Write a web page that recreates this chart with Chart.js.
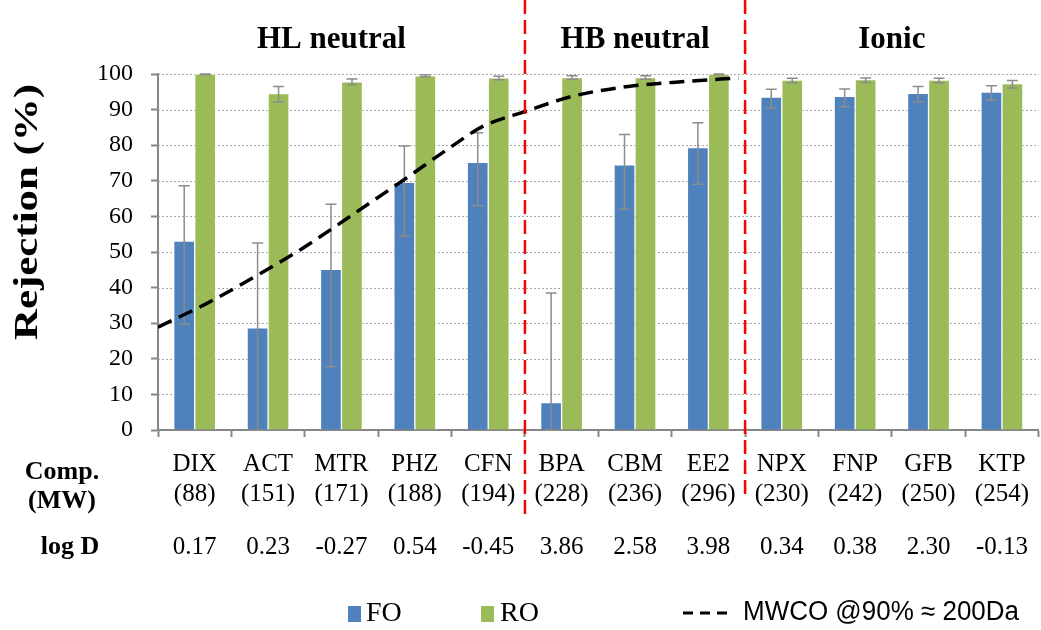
<!DOCTYPE html>
<html>
<head>
<meta charset="utf-8">
<script src="https://cdn.jsdelivr.net/npm/chart.js@4.4.0/dist/chart.umd.min.js"></script>
<style>
  html, body { margin: 0; padding: 0; background: #fff; overflow: hidden; }
  canvas { display: block; }
</style>
</head>
<body>
<canvas id="rejchart" width="1041" height="630"></canvas>
<script>
// compounds, molecular weight and log D
const compounds = ["DIX", "ACT", "MTR", "PHZ", "CFN", "BPA", "CBM", "EE2", "NPX", "FNP", "GFB", "KTP"];
const molWeights = [88, 151, 171, 188, 194, 228, 236, 296, 230, 242, 250, 254];
const logD = ["0.17", "0.23", "-0.27", "0.54", "-0.45", "3.86", "2.58", "3.98", "0.34", "0.38", "2.30", "-0.13"];

// groups of compounds, left to right
const groupNames = ["HL neutral", "HB neutral", "Ionic"];
const groupSizes = [5, 3, 4];

// rejection (%) with error bars (up / down)
const foRejection = [53.1, 28.7, 45.1, 69.6, 75.2, 7.7, 74.5, 79.3, 93.5, 93.7, 94.6, 94.9];
const foErrUp = [15.5, 23.8, 18.3, 10.2, 8.3, 30.8, 8.5, 7.0, 2.2, 2.1, 1.9, 1.8];
const foErrDown = [23.4, 28.7, 27.3, 15.1, 12.2, 7.7, 12.5, 10.3, 3.1, 2.9, 2.5, 2.3];

const roRejection = [100, 94.5, 97.8, 99.5, 98.9, 99.0, 99.0, 100, 98.3, 98.4, 98.3, 97.3];
const roErrUp = [0.2, 2.0, 0.8, 0.3, 0.5, 0.5, 0.5, 0.2, 0.5, 0.5, 0.5, 0.9];
const roErrDown = [0.2, 2.4, 0.8, 0.3, 0.5, 0.5, 0.5, 0.2, 0.8, 0.8, 0.8, 1.2];

// MWCO curve, x in category units (0 = first compound)
const mwcoPos = [-0.5, 0.16, 0.89, 1.43, 2.11, 2.88, 3.47, 3.92, 4.51, 5.14, 5.91, 6.68, 7.41];
const mwcoRej = [28.9, 35.5, 43.9, 50.5, 59.9, 70.7, 79.2, 85.2, 89.5, 93.7, 96.5, 97.9, 98.9];

const yTicks = [0, 10, 20, 30, 40, 50, 60, 70, 80, 90, 100];

const SERIF = '"Liberation Serif", "Times New Roman", serif';
const FO_COLOR = "#4f81bd";
const RO_COLOR = "#9bbb59";
const AXIS_GREY = "#868686";
const BAR_WIDTH = 21;
const BAR_SHIFT = 0.143; // half a bar, in category units

function fillFitted(ctx, text, x, y, width) {
  const w = ctx.measureText(text).width;
  ctx.save();
  ctx.translate(x, y);
  ctx.scale(width / w, 1);
  ctx.fillText(text, 0, 0);
  ctx.restore();
}

// dotted horizontal grid
const dottedGrid = {
  id: "dottedGrid",
  beforeDatasetsDraw(chart) {
    const { ctx, chartArea: a, scales: { y } } = chart;
    ctx.save();
    ctx.strokeStyle = "#a6a6a6";
    ctx.lineWidth = 1;
    ctx.setLineDash([2, 2]);
    yTicks.slice(1).forEach(v => {
      const py = Math.round(y.getPixelForValue(v)) + 0.5;
      ctx.beginPath();
      ctx.moveTo(a.left, py);
      ctx.lineTo(a.right, py);
      ctx.stroke();
    });
    ctx.restore();
  }
};

// error bars on the two bar series
const errorBars = {
  id: "errorBars",
  afterDatasetDraw(chart, args) {
    const errs = { 0: [foErrUp, foErrDown], 1: [roErrUp, roErrDown] }[args.index];
    if (!errs) return;
    const { ctx, chartArea: a, scales: { y } } = chart;
    const vals = chart.data.datasets[args.index].data.map(p => p.y);
    ctx.save();
    ctx.strokeStyle = "#8c8c8c";
    ctx.lineWidth = 1.5;
    args.meta.data.forEach((bar, i) => {
      const top = Math.max(a.top, y.getPixelForValue(vals[i] + errs[0][i]));
      const bot = Math.min(a.bottom, y.getPixelForValue(vals[i] - errs[1][i]));
      const x = bar.x;
      ctx.beginPath();
      ctx.moveTo(x, top); ctx.lineTo(x, bot);
      ctx.moveTo(x - 5.5, top); ctx.lineTo(x + 5.5, top);
      ctx.moveTo(x - 5.5, bot); ctx.lineTo(x + 5.5, bot);
      ctx.stroke();
    });
    ctx.restore();
  }
};

// group dividers, headings, log D row, side labels and legend
const annotations = {
  id: "annotations",
  afterDraw(chart) {
    const { ctx, scales: { x } } = chart;
    const step = x.getPixelForValue(1) - x.getPixelForValue(0);
    ctx.save();

    // red dashed dividers between groups
    ctx.strokeStyle = "#ff0000";
    ctx.lineWidth = 2.5;
    ctx.setLineDash([14, 6]);
    const dividerEnds = [518, 498];
    let start = 0;
    groupSizes.slice(0, -1).forEach((n, g) => {
      start += n;
      const px = x.getPixelForValue(start) - step / 2;
      ctx.beginPath();
      ctx.moveTo(px, 0);
      ctx.lineTo(px, dividerEnds[g]);
      ctx.stroke();
    });
    ctx.setLineDash([]);

    // group headings
    ctx.fillStyle = "#000";
    ctx.textAlign = "center";
    ctx.textBaseline = "middle";
    ctx.font = "bold 31px " + SERIF;
    start = 0;
    groupNames.forEach((name, g) => {
      const mid = start + (groupSizes[g] - 1) / 2;
      let px = x.getPixelForValue(mid);
      if (g === 0) px -= 10;
      ctx.fillText(name, px, 40);
      start += groupSizes[g];
    });

    // log D values
    ctx.font = "25px " + SERIF;
    logD.forEach((v, i) => ctx.fillText(v, x.getPixelForValue(i), 547));

    // row headings
    ctx.font = "bold 26px " + SERIF;
    ctx.fillText("Comp.", 62, 472);
    ctx.fillText("(MW)", 62, 501);
    ctx.fillText("log D", 70, 547);

    // y axis title
    ctx.save();
    ctx.translate(28, 212);
    ctx.rotate(-Math.PI / 2);
    ctx.font = "bold 34px " + SERIF;
    ctx.textAlign = "left";
    fillFitted(ctx, "Rejection (%)", -128, 0, 256);
    ctx.restore();

    // legend
    ctx.textAlign = "left";
    ctx.fillStyle = FO_COLOR;
    ctx.fillRect(348, 606, 13, 16);
    ctx.fillStyle = RO_COLOR;
    ctx.fillRect(481, 606, 13, 16);
    ctx.fillStyle = "#000";
    ctx.font = "28px " + SERIF;
    ctx.fillText("FO", 366, 614);
    ctx.fillText("RO", 500, 614);
    ctx.strokeStyle = "#000";
    ctx.lineWidth = 3;
    ctx.setLineDash([10, 7]);
    ctx.beginPath();
    ctx.moveTo(683, 613);
    ctx.lineTo(727, 613);
    ctx.stroke();
    ctx.setLineDash([]);
    ctx.font = '27px "Liberation Sans Narrow", "Liberation Sans", sans-serif';
    fillFitted(ctx, "MWCO @90% \u2248 200Da", 743, 613, 276);

    ctx.restore();
  }
};

// FO sits just left of each category centre, RO just right
const barPoints = (values, side) => values.map((v, i) => ({ x: i + side * BAR_SHIFT, y: v }));

const ctx = document.getElementById("rejchart").getContext("2d");
const rejchart = new Chart(ctx, {
  type: "bar",
  data: {
    labels: compounds.map((c, i) => [c, "(" + molWeights[i] + ")"]),
    datasets: [
      {
        label: "FO",
        data: barPoints(foRejection, -1),
        backgroundColor: FO_COLOR,
        borderColor: "rgba(255, 255, 255, 0.55)",
        borderWidth: 1,
        barThickness: BAR_WIDTH,
        grouped: false,
        xAxisID: "xc",
        order: 1,
      },
      {
        label: "RO",
        data: barPoints(roRejection, 1),
        backgroundColor: RO_COLOR,
        borderColor: "rgba(255, 255, 255, 0.55)",
        borderWidth: 1,
        barThickness: BAR_WIDTH,
        grouped: false,
        xAxisID: "xc",
        order: 1,
      },
      {
        type: "line",
        label: "MWCO @90% \u2248 200Da",
        data: mwcoPos.map((p, i) => ({ x: p, y: mwcoRej[i] })),
        xAxisID: "xc",
        borderColor: "#000",
        borderWidth: 3.5,
        borderDash: [15, 8],
        pointRadius: 0,
        cubicInterpolationMode: "monotone",
        fill: false,
        order: 0,
      },
    ],
  },
  options: {
    responsive: false,
    animation: false,
    layout: { padding: { top: 74, right: 0, bottom: 0, left: 0 } },
    plugins: {
      legend: { display: false },
      tooltip: { enabled: false },
    },
    scales: {
      x: {
        type: "category",
        offset: true,
        grid: {
          offset: true,
          drawOnChartArea: false,
          color: AXIS_GREY,
          tickLength: 7,
          tickWidth: 2,
        },
        border: { color: AXIS_GREY, width: 2 },
        ticks: {
          color: "#000",
          font: { family: SERIF, size: 25, lineHeight: 1.2 },
          padding: 12,
          autoSkip: false,
          maxRotation: 0,
        },
        afterFit(scale) { scale.height = 200; },
      },
      xc: {
        type: "linear",
        display: false,
        offset: false,
        min: -0.5,
        max: 11.5,
        grid: { offset: false },
      },
      y: {
        min: 0,
        max: 100,
        grid: {
          drawOnChartArea: false,
          color: AXIS_GREY,
          tickLength: 7,
          tickWidth: 2,
        },
        border: { color: AXIS_GREY, width: 2 },
        ticks: {
          stepSize: 10,
          color: "#000",
          font: { family: SERIF, size: 24 },
          padding: 18,
        },
        afterFit(scale) { scale.width = 158; },
      },
    },
  },
  plugins: [dottedGrid, errorBars, annotations],
});
</script>
</body>
</html>
